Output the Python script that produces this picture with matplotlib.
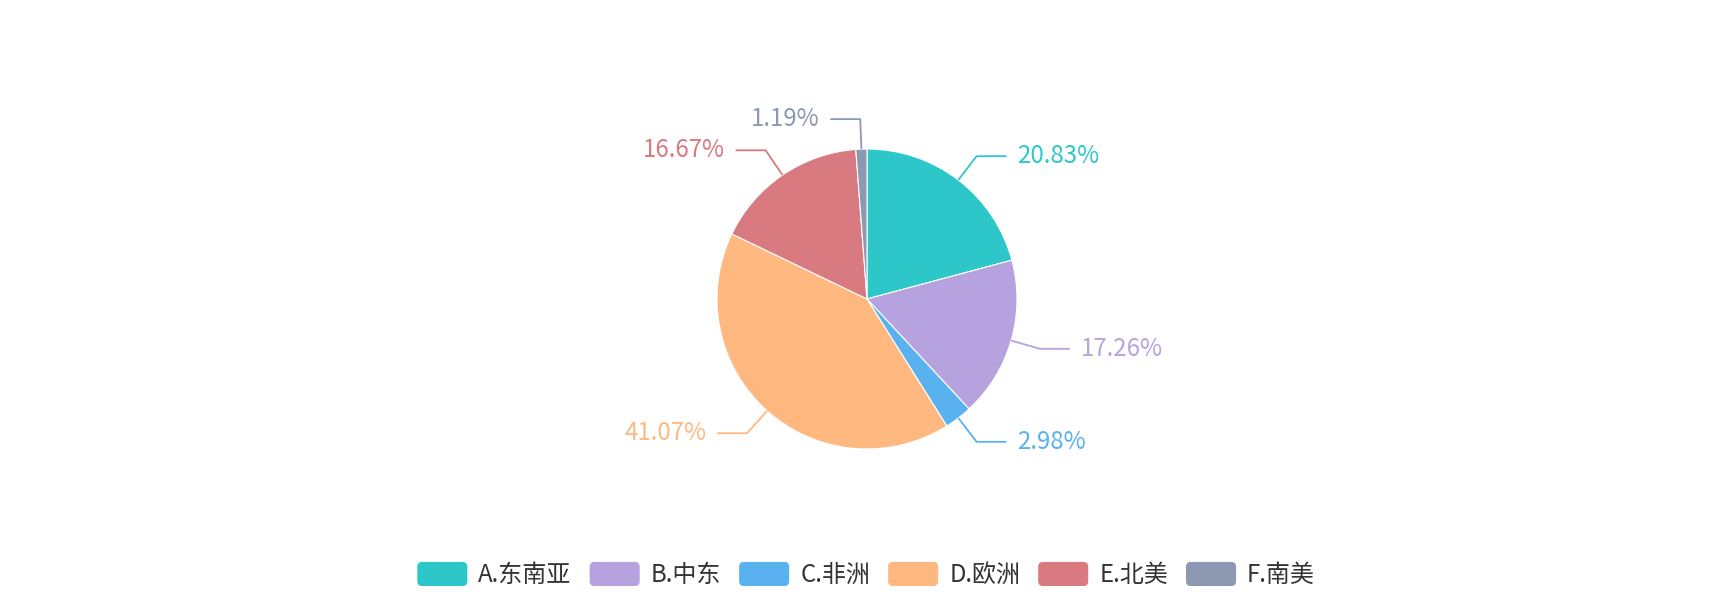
import numpy as np
import matplotlib
matplotlib.use("Agg")
import matplotlib.pyplot as plt
from matplotlib.patches import FancyBboxPatch, Patch
from matplotlib.legend_handler import HandlerPatch

plt.rcParams['font.family'] = ['Noto Sans CJK SC', 'DejaVu Sans']

# data
regions = ['A.东南亚', 'B.中东', 'C.非洲', 'D.欧洲', 'E.北美', 'F.南美']
counts = [35, 29, 5, 69, 28, 2]
colors = ['#2ec7c9', '#b6a2de', '#5ab1ef', '#ffb980', '#d87a80', '#8d98b3']

W, H = 1734, 600
CX, CY, R = 867, 301, 150
FS = 17.3


class RoundBoxHandler(HandlerPatch):
    def create_artists(self, legend, orig_handle, xdescent, ydescent,
                       width, height, fontsize, trans):
        box = FancyBboxPatch((-xdescent, -ydescent), width, height,
                             boxstyle="round,pad=0,rounding_size=%f" % (height * 0.2),
                             facecolor=orig_handle.get_facecolor(),
                             edgecolor='none', transform=trans)
        return [box]


fig = plt.figure(figsize=(W / 100, H / 100), dpi=100)
ax = fig.add_axes([0, 0, 1, 1])

wedges, _ = ax.pie(counts, colors=colors, startangle=90, counterclock=False,
                   center=(CX, CY), radius=R,
                   wedgeprops=dict(edgecolor='white', linewidth=0.8))
# pie resets the limits, so set them afterwards
ax.set_xlim(0, W)
ax.set_ylim(0, H)
ax.set_aspect('equal')
ax.axis('off')

total = sum(counts)
for w, c, col in zip(wedges, counts, colors):
    mid = np.deg2rad((w.theta1 + w.theta2) / 2)
    x0, y0 = CX + R * np.cos(mid), CY + R * np.sin(mid)
    x1, y1 = CX + (R + 30) * np.cos(mid), CY + (R + 30) * np.sin(mid)
    side = 1 if np.cos(mid) >= 0 else -1
    x2 = x1 + side * 30
    ax.plot([x0, x1, x2], [y0, y1, y1], color=col, lw=1.3, solid_capstyle='butt')
    ax.text(x2 + side * 11, y1, f'{c / total * 100:.2f}%', color=col,
            fontsize=FS, ha='left' if side > 0 else 'right', va='center')

handles = [Patch(facecolor=col, label=lab) for col, lab in zip(colors, regions)]
leg = fig.legend(handles=handles, loc='center', bbox_to_anchor=(0.4995, 25 / H),
                 ncol=6, frameon=False, fontsize=FS,
                 handlelength=50 / 24, handleheight=28 / 24,
                 handletextpad=11 / 24, columnspacing=0.75,
                 handler_map={Patch: RoundBoxHandler()})
for t in leg.get_texts():
    t.set_color('#333333')

fig.savefig('out.png', dpi=100)
